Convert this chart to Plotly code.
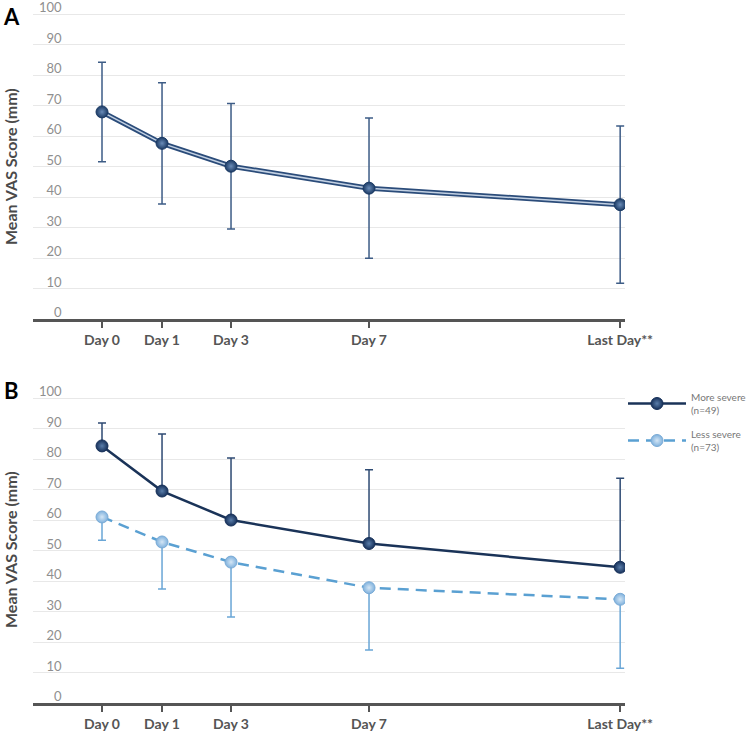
import plotly.graph_objects as go

# ---------------- data ----------------
days = ["Day 0", "Day 1", "Day 3", "Day 7", "Last Day**"]
day_pos = [-0.74, 1, 3, 7, 14.28]          # axis coordinates of the time points

a_mean = [67.9, 57.6, 50.1, 42.9, 37.5]
a_sd = [16.3, 19.9, 20.6, 23.0, 25.8]

more_mean = [84.3, 69.5, 60.0, 52.3, 44.5]
more_sd = [7.5, 18.7, 20.3, 24.2, 29.2]
less_mean = [61.0, 52.8, 46.2, 37.8, 34.0]
less_sd = [7.6, 15.4, 18.0, 20.4, 22.6]

y_ticks = list(range(0, 101, 10))
y_ticktext = [f"{v:>3}".replace(" ", "\u2007") for v in y_ticks]

more_label = "More severe<br>(n=49)"
less_label = "Less severe<br>(n=73)"

# ---------------- figure ----------------
FONT = "Lato"
fig = go.Figure()

# Panel A: double line (dark outer, light inner)
fig.add_trace(go.Scatter(x=day_pos, y=a_mean, mode="lines", xaxis="x", yaxis="y",
                         line=dict(color="#2b4c7a", width=5), showlegend=False, hoverinfo="skip"))
fig.add_trace(go.Scatter(x=day_pos, y=a_mean, mode="lines", xaxis="x", yaxis="y",
                         line=dict(color="#c3d1e3", width=1.5), showlegend=False, hoverinfo="skip"))
fig.add_trace(go.Scatter(x=day_pos, y=a_mean, mode="markers", xaxis="x", yaxis="y",
                         marker=dict(size=12, color="#1b3a64",
                                     gradient=dict(type="radial", color="#6a8cb8"),
                                     line=dict(color="#1b3a64", width=1)),
                         error_y=dict(type="data", array=a_sd, visible=True,
                                      color="#3d5c86", thickness=1.5, width=4),
                         showlegend=False))

# Panel B
fig.add_trace(go.Scatter(x=day_pos, y=more_mean, mode="lines+markers", xaxis="x2", yaxis="y2",
                         name=more_label, legendgroup="more",
                         line=dict(color="#1a3358", width=2.5),
                         marker=dict(size=12, color="#17315a",
                                     gradient=dict(type="radial", color="#5a7eab"),
                                     line=dict(color="#17315a", width=1)),
                         error_y=dict(type="data", symmetric=False, array=more_sd,
                                      arrayminus=[0] * len(more_sd), visible=True,
                                      color="#2e4a73", thickness=1.5, width=4)))
fig.add_trace(go.Scatter(x=day_pos, y=less_mean, mode="lines+markers", xaxis="x2", yaxis="y2",
                         name=less_label, legendgroup="less",
                         line=dict(color="#5aa0d2", width=2.5, dash="11px,7px"),
                         marker=dict(size=12, color="#7fb1dd",
                                     gradient=dict(type="radial", color="#d4e6f5"),
                                     line=dict(color="#7aabd6", width=1)),
                         error_y=dict(type="data", symmetric=False, array=[0] * len(less_sd),
                                      arrayminus=less_sd, visible=True,
                                      color="#6aa6d6", thickness=1.5, width=4)))

xdomain = [33 / 750, 625 / 750]
xcommon = dict(domain=xdomain, range=[-2.74, 14.42], tickmode="array", tickvals=day_pos,
               ticktext=days, showgrid=False, zeroline=False, showline=True,
               linecolor="#555555", linewidth=2.5, ticks="outside", ticklen=6,
               tickwidth=1.5, tickcolor="#555555",
               tickfont=dict(family=FONT, size=14, color="#555555", weight="bold"))
ycommon = dict(range=[0, 104.6], tickmode="array", tickvals=y_ticks, ticktext=y_ticktext,
               ticklabelposition="inside top", ticklabelstandoff=3, ticklabelshift=3,
               ticklabeloverflow="allow",
               showgrid=True, gridcolor="#e8e8e8", gridwidth=1, zeroline=False,
               showline=False, ticks="",
               tickfont=dict(family=FONT, size=13, color="#8f8f8f"))

fig.update_layout(
    width=750, height=731,
    margin=dict(l=0, r=0, t=0, b=0, autoexpand=False),
    plot_bgcolor="white", paper_bgcolor="white",
    font=dict(family=FONT),
    xaxis=dict(anchor="y", **xcommon),
    xaxis2=dict(anchor="y2", **xcommon),
    yaxis=dict(anchor="x", domain=[1 - 319 / 731, 1.0], **ycommon),
    yaxis2=dict(anchor="x2", domain=[1 - 703 / 731, 1 - 384 / 731], **ycommon),
    showlegend=True,
    legend=dict(x=623 / 750, y=1 - 384 / 731, xanchor="left", yanchor="top",
                font=dict(family=FONT, size=10, color="#777777"),
                bgcolor="rgba(0,0,0,0)", itemwidth=58, tracegroupgap=8),
    annotations=[
        dict(text="<b>A</b>", x=11 / 750, y=1 - 16 / 731, xref="paper", yref="paper",
             xanchor="center", yanchor="middle",
             showarrow=False, font=dict(family=FONT, size=22, color="black")),
        dict(text="<b>B</b>", x=11 / 750, y=1 - 391 / 731, xref="paper", yref="paper",
             xanchor="center", yanchor="middle",
             showarrow=False, font=dict(family=FONT, size=22, color="black")),
        dict(text="<b>Mean VAS Score (mm)</b>", x=10 / 750, y=1 - 167 / 731,
             xref="paper", yref="paper", showarrow=False, textangle=-90,
             xanchor="center", yanchor="middle",
             font=dict(family=FONT, size=16, color="#4a4a4a")),
        dict(text="<b>Mean VAS Score (mm)</b>", x=10 / 750, y=1 - 550 / 731,
             xref="paper", yref="paper", showarrow=False, textangle=-90,
             xanchor="center", yanchor="middle",
             font=dict(family=FONT, size=16, color="#4a4a4a")),
    ],
)

fig.write_html("out.html")
